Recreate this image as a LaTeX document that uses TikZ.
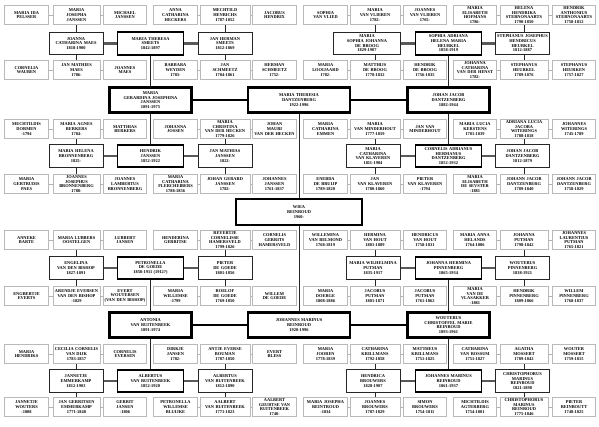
\documentclass[tikz,border=0pt]{standalone}
\usepackage{fontspec}
\setmainfont{Liberation Serif}
\newcommand\ft{\fontsize{4.4}{4.7}\selectfont\bfseries}
\begin{document}
\begin{tikzpicture}[x=1pt,y=-1pt,
 sm/.style={draw=gray!55, line width=0.9pt, fill=white, align=center, inner xsep=1pt, inner ysep=1pt, minimum height=19.5pt, font=\ft, text=black},
 pa/.style={sm, draw=black!85, line width=1pt, minimum height=22.5pt},
 ch/.style={sm, draw=black, line width=1.8pt, minimum height=22.5pt},
 bg/.style={sm, draw=black, line width=2.8pt, minimum height=24.5pt},
 wS/.style={text width=41.5pt},
 wB/.style={text width=45pt},
 wE/.style={text width=48pt},
 wK/.style={text width=46pt},
 wP/.style={text width=52pt},
 wC/.style={text width=64pt},
 wG/.style={text width=80pt},
 tl/.style={gray!60, line width=0.9pt},
 vl/.style={black!85, line width=0.8pt},
 pl/.style={black!65, line width=2.4pt},
 bl/.style={black, line width=1.4pt}]
\useasboundingbox[fill=white] (0,0) rectangle (599,427);
% ---------------- Row 1
\node[sm,wS] (a1) at (26.5,15) {MARIA IDA\\PELSSER};
\node[sm,wB] (b1) at (76.5,15) {MARIA\\JOSEPHA\\JANSSEN};
\node[sm,wS] (c1) at (125,15) {MICHAEL\\JANSSEN};
\node[sm,wS] (d1) at (175.5,15) {ANNA\\CATHARINA\\HECKERS};
\node[sm,wE] (e1) at (225,15) {MECHTILD\\HENRICHS\\1787-1852};
\node[sm,wS] (f1) at (274.5,15) {JACOBUS\\HENDRIX};
\node[sm,wS] (g1) at (325.5,15) {SOPHIA\\VAN VLIED};
\node[sm,wE] (h1) at (375,15) {MARIA\\VAN VLIEREN\\1782-};
\node[sm,wS] (i1) at (425,15) {JOANNES\\VAN VLIEREN\\1765-};
\node[sm,wS] (j1) at (475,15) {MARIA\\ELISABETH\\HOFMANS\\1786-};
\node[sm,wK] (k1) at (524,15) {HELENA\\HENDRIKA\\STERNONAARTS\\1790-1850};
\node[sm,wS] (l1) at (574,15) {HENDRIK\\ANTHONIUS\\STERNONAARTS\\1758-1812};
% ---------------- Row 2
\node[pa,wP] (p2a) at (76,43.5) {JOANNA\\CATHARINA MAES\\1818-1900};
\node[ch,wC] (t2a) at (150.5,43.5) {MARIA THERESA\\SMEETS\\1842-1897};
\node[pa,wP] (p2b) at (225,43.5) {JAN HERMAN\\SMEETS\\1812-1869};
\node[pa,text width=65pt] (p2c) at (367,43.5) {MARIA\\SOPHIA JOHANNA\\DE BROOG\\1829-1907};
\node[ch,wC] (t2c) at (448.5,43.5) {SOPHIA ADRIANA\\HELENA MARIA\\HEURKEL\\1858-1919};
\node[pa,wP] (p2d) at (522.5,43.5) {STEPHANUS JOSEPHUS\\HENDRICUS\\HEURKEL\\1812-1887};
% ---------------- Row 3
\node[sm,wS] (a3) at (26.5,70) {CORNELIA\\WAUBEN};
\node[sm,wB] (b3) at (76.5,70) {JAN MATHIES\\MAES\\1786-};
\node[sm,wS] (c3) at (125,70) {JOANNES\\MAES};
\node[sm,wS] (d3) at (175.5,70) {BARBARA\\WEYDEN\\1783-};
\node[sm,wE] (e3) at (225,70) {JAN\\SCHMEETZ\\1784-1861};
\node[sm,wS] (f3) at (274.5,70) {HERMAN\\SCHMEETZ\\1752-};
\node[sm,wS] (g3) at (325.5,70) {MARIA\\LOOIJAARD\\1782-};
\node[sm,wE] (h3) at (375,70) {MATTHIJS\\DE BROOG\\1778-1832};
\node[sm,wS] (i3) at (425,70) {HENDRIK\\DE BROOG\\1756-1835};
\node[sm,wS] (j3) at (475,70) {JOHANNA\\CATHARINA\\VAN DER HENST\\1782-};
\node[sm,wK] (k3) at (524,70) {STEPHANUS\\HEURKEL\\1789-1876};
\node[sm,wS] (l3) at (574,70) {STEPHANUS\\HEURKEN\\1757-1827};
% ---------------- Row 4
\node[bg,wG] (g4a) at (150.5,100) {MARIA\\GERARDINA JOSEPHINA\\JANSSEN\\1891-1975};
\node[bg,text width=100pt] (g4b) at (299,100) {MARIA THERESIA\\DANTZENBERG\\1922-1996};
\node[bg,wG] (g4c) at (448.5,100) {JOHAN JACOB\\DANTZENBERG\\1882-1944};
% ---------------- Row 5
\node[sm,wS] (a5) at (26.5,129) {MECHTILDIS\\DORMEN\\-1794};
\node[sm,wB] (b5) at (76.5,129) {MARIA AGNES\\BERKERS\\1784-};
\node[sm,wS] (c5) at (125,129) {MATTHIAS\\BERKERS};
\node[sm,wS] (d5) at (175.5,129) {JOHANNA\\JOSSEN};
\node[sm,wE] (e5) at (225,129) {MARIA\\CHRISTINA\\VAN DER HECKEN\\1779-1826};
\node[sm,wS] (f5) at (274.5,129) {JOHAN\\MAURI\\VAN DER HECKEN};
\node[sm,wS] (g5) at (325.5,129) {MARIA\\CATHARINA\\EMMEN};
\node[sm,wE] (h5) at (375,129) {MARIA\\VAN MINDERHOUT\\1777-1859};
\node[sm,wS] (i5) at (425,129) {JAN VAN\\MINDERHOUT};
\node[sm,wS] (j5) at (475,129) {MARIA LUCIA\\KERSTENS\\1781-1839};
\node[sm,wK] (k5) at (524,129) {ADRIANA LUCIA\\JACOBA\\WITERINGS\\1788-1818};
\node[sm,wS] (l5) at (574,129) {JOHANNES\\WITERINGS\\1745-1789};
% ---------------- Row 6
\node[pa,wP] (p6a) at (76,156) {MARIA HELENA\\BRONNENBERG\\1825-};
\node[ch,wC] (t6a) at (150.5,156) {HENDRIK\\JANSSEN\\1852-1922};
\node[pa,wP] (p6b) at (225,156) {JAN MATHIAS\\JANSSEN\\1822-};
\node[pa,wP] (p6c) at (373,156) {MARIA\\CATHARINA\\VAN KLAVEREN\\1811-1904};
\node[ch,wC] (t6c) at (448.5,156) {CORNELIS ADRIANUS\\HERMANUS\\DANTZENBERG\\1852-1932};
\node[pa,wP] (p6d) at (522.5,156) {JOHAN JACOB\\DANTZENBERG\\1812-1879};
% ---------------- Row 7
\node[sm,wS] (a7) at (26.5,184) {MARIA\\GERTRUDIS\\PAES};
\node[sm,wB] (b7) at (76.5,184) {JOANNES\\JOSEPHUS\\BRONNENBERG\\1788-};
\node[sm,wS] (c7) at (125,184) {JOANNES\\LAMBERTUS\\BRONNENBERG};
\node[sm,wS] (d7) at (175.5,184) {MARIA\\CATHARINA\\FLERCHEIBERS\\1788-1856};
\node[sm,wE] (e7) at (225,184) {JOHAN GERARD\\JANSSEN\\1782-};
\node[sm,wS] (f7) at (274.5,184) {JOHANNES\\JANSSEN\\1761-1837};
\node[sm,wS] (g7) at (325.5,184) {ENEBDA\\DE BRUIJP\\1789-1820};
\node[sm,wE] (h7) at (375,184) {JAN\\VAN KLAVEREN\\1780-1860};
\node[sm,wS] (i7) at (425,184) {PIETER\\VAN KLAVEREN\\-1794};
\node[sm,wS] (j7) at (475,184) {MARIA\\ELISABETH\\DE SEVSTER\\-1881};
\node[sm,wK] (k7) at (524,184) {JOHANN JACOB\\DANTZENBERG\\1789-1840};
\node[sm,wS] (l7) at (574,184) {JOHANN JACOB\\DANTZENBERG\\1758-1829};
% ---------------- Centre
\node[bg,text width=124pt,minimum height=26pt] (c0) at (299,212) {WIEA\\REINROUD\\1960-};
% ---------------- Row 8
\node[sm,wS] (a8) at (26.5,240) {ANNEKE\\BARTE};
\node[sm,wB] (b8) at (76.5,240) {MARIA LUBBERS\\OOSTELGEN};
\node[sm,wS] (c8) at (125,240) {LUBBERT\\JANSEN};
\node[sm,wS] (d8) at (175.5,240) {HENDERINA\\GERRITSE};
\node[sm,wE] (e8) at (225,240) {REYERTJE\\CORNELISSE\\HAMERSVELD\\1799-1826};
\node[sm,wS] (f8) at (274.5,240) {CORNELIS\\GERRITS\\HAMERSVELD};
\node[sm,wS] (g8) at (325.5,240) {WILLEMINA\\VAN BELMOND\\1768-1819};
\node[sm,wE] (h8) at (375,240) {HERMINA\\VAN HOUT\\1801-1889};
\node[sm,wS] (i8) at (425,240) {HENDRICUS\\VAN HOUT\\1758-1831};
\node[sm,wS] (j8) at (475,240) {MARIA ANNA\\HELANDS\\1764-1806};
\node[sm,wK] (k8) at (524,240) {JOHANNA\\PUTMAN\\1798-1842};
\node[sm,wS] (l8) at (574,240) {JOHANNES\\LAURENTIUS\\PUTMAN\\1765-1821};
% ---------------- Row 9
\node[pa,wP] (p9a) at (76,268) {ENGELINA\\VAN DEN BISHOP\\1827-1891};
\node[ch,wC] (t9a) at (150.5,268) {PETRONELLA\\DE GOEDE\\1858-1911 (1912?)};
\node[pa,wP] (p9b) at (225,268) {PIETER\\DE GOEDE\\1801-1856};
\node[pa,wP] (p9c) at (373,268) {MARIA WILHELMINA\\PUTMAN\\1835-1917};
\node[ch,wC] (t9c) at (448.5,268) {JOHANNA HERMINA\\PINNENBERG\\1865-1934};
\node[pa,wP] (p9d) at (522.5,268) {WOUTERUS\\PINNENBERG\\1838-1921};
% ---------------- Row 10
\node[sm,wS] (a10) at (26.5,296) {ENGBERTJE\\EVERTS};
\node[sm,wB] (b10) at (76.5,296) {ARENDJE EVERSEN\\VAN DEN BISHOP\\-1829};
\node[sm,wS] (c10) at (125,296) {EVERT\\WOUTERSEN\\(VAN DEN BISHOP)};
\node[sm,wS] (d10) at (175.5,296) {MARIA\\WILLEMSE\\-1799};
\node[sm,wE] (e10) at (225,296) {ROELOF\\DE GOEDE\\1769-1850};
\node[sm,wS] (f10) at (274.5,296) {WILLEM\\DE GOEDE};
\node[sm,wS] (g10) at (325.5,296) {MARIA\\DOERGE\\1808-1886};
\node[sm,wE] (h10) at (375,296) {JACOBUS\\PUTMAN\\1801-1871};
\node[sm,wS] (i10) at (425,296) {JACOBUS\\PUTMAN\\1761-1862};
\node[sm,wS] (j10) at (475,296) {MARIA\\VAN DE\\VLASAKKER\\-1881};
\node[sm,wK] (k10) at (524,296) {HENDRIK\\PINNENBERG\\1809-1866};
\node[sm,wS] (l10) at (574,296) {WILLEM\\PINNENBERG\\1768-1837};
% ---------------- Row 11
\node[bg,wG] (g11a) at (150.5,325) {ANTONIA\\VAN RUITENBEEK\\1891-1974};
\node[bg,text width=100pt] (g11b) at (299,325) {JOHANNES MARINUS\\REINROUD\\1920-1996};
\node[bg,wG] (g11c) at (448.5,325) {WOUTERUS\\CHRISTOFFEL MARIE\\REINROUD\\1893-1961};
% ---------------- Row 12
\node[sm,wS] (a12) at (26.5,354) {MARIA\\HENDRIKS};
\node[sm,wB] (b12) at (76.5,354) {CECILIA CORNELIS\\VAN DIJK\\1783-1857};
\node[sm,wS] (c12) at (125,354) {CORNELIS\\EVERSEN};
\node[sm,wS] (d12) at (175.5,354) {DIRKJE\\JANSEN\\1782-};
\node[sm,wE] (e12) at (225,354) {ANTJE EVERSE\\BOUMAN\\1787-1850};
\node[sm,wS] (f12) at (274.5,354) {EVERT\\BLESS};
\node[sm,wS] (g12) at (325.5,354) {MARIA\\JOOREN\\1778-1839};
\node[sm,wE] (h12) at (375,354) {CATHARINA\\KRILLMANS\\1792-1858};
\node[sm,wS] (i12) at (425,354) {MATTHEUS\\KRILLMANS\\1751-1825};
\node[sm,wS] (j12) at (475,354) {CATHARINA\\VAN ROSSUM\\1751-1827};
\node[sm,wK] (k12) at (524,354) {AGATHA\\MOSSERT\\1789-1842};
\node[sm,wS] (l12) at (574,354) {WOUTER\\MOSSERT\\1759-1815};
% ---------------- Row 13
\node[pa,wP] (p13a) at (76,381) {JANNETJE\\EMMERKAMP\\1812-1903};
\node[ch,wC] (t13a) at (150.5,381) {ALBERTUS\\VAN RUITENBEEK\\1852-1920};
\node[pa,wP] (p13b) at (225,381) {ALBERTUS\\VAN RUITENBEEK\\1812-1890};
\node[pa,wP] (p13c) at (373,381) {HENDRICA\\BROUWERS\\1828-1907};
\node[ch,wC] (t13c) at (448.5,381) {JOHANNES MARINUS\\REINROUD\\1861-1937};
\node[pa,wP] (p13d) at (522.5,381) {CHRISTOPHORUS\\MARINUS\\REINROUD\\1821-1898};
% ---------------- Row 14
\node[sm,wS] (a14) at (26.5,407) {JANNETJE\\WOUTERS\\-1808};
\node[sm,wB] (b14) at (76.5,407) {JAN GERRITSEN\\EMMERKAMP\\1771-1848};
\node[sm,wS] (c14) at (125,407) {GERRIT\\JANSEN\\-1806};
\node[sm,wS] (d14) at (175.5,407) {PETRONELLA\\WILLEMSE\\BLUIJKE};
\node[sm,wE] (e14) at (225,407) {AALBERT\\VAN RUITENBEEK\\1771-1823};
\node[sm,wS] (f14) at (274.5,407) {AALBERT\\GEURTSE VAN\\RUITENBEEK\\1748-};
\node[sm,wS] (g14) at (325.5,407) {MARIA JOSEPHA\\REINTROUD\\-1834};
\node[sm,wE] (h14) at (375,407) {JOANNES\\BROUWERS\\1787-1829};
\node[sm,wS] (i14) at (425,407) {SIMON\\BROUWERS\\1754-1811};
\node[sm,wS] (j14) at (475,407) {MICHTILDIS\\AGTERBERG\\1754-1801};
\node[sm,wK] (k14) at (524,407) {CHRISTOPHORUS\\MARINUS\\REINROUD\\1775-1846};
\node[sm,wS] (l14) at (574,407) {PIETER\\REINBOUTT\\1748-1825};
% ---------------- connectors
\foreach \r in {1,3,5,7,8,10,12,14}{
  \draw[tl] (a\r) -- (b\r) -- (c\r);
  \draw[tl] (d\r) -- (e\r) -- (f\r);
  \draw[tl] (g\r) -- (h\r) -- (i\r);
  \draw[tl] (j\r) -- (k\r) -- (l\r);
}
\foreach \p/\u/\d in {2/1/3,6/5/7,9/8/10,13/12/14}{
  \draw[vl] (b\u) -- (b\u |- p\p a.north);
  \draw[vl] (b\d) -- (b\d |- p\p a.south);
  \draw[vl] (e\u) -- (e\u |- p\p b.north);
  \draw[vl] (e\d) -- (e\d |- p\p b.south);
  \draw[vl] (h\u) -- (h\u |- p\p c.north);
  \draw[vl] (h\d) -- (h\d |- p\p c.south);
  \draw[vl] (k\u) -- (k\u |- p\p d.north);
  \draw[vl] (k\d) -- (k\d |- p\p d.south);
  \draw[pl] (p\p a) -- (t\p a) -- (p\p b);
  \draw[pl] (p\p c) -- (t\p c) -- (p\p d);
}
\draw[vl] (t2a) -- (g4a) -- (t6a);
\draw[vl] (t2c) -- (g4c) -- (t6c);
\draw[vl] (t9a) -- (g11a) -- (t13a);
\draw[vl] (t9c) -- (g11c) -- (t13c);
\draw[bl] (g4a) -- (g4b) -- (g4c);
\draw[bl] (g11a) -- (g11b) -- (g11c);
\draw[vl] (g4b) -- (c0) -- (g11b);
\end{tikzpicture}
\end{document}
